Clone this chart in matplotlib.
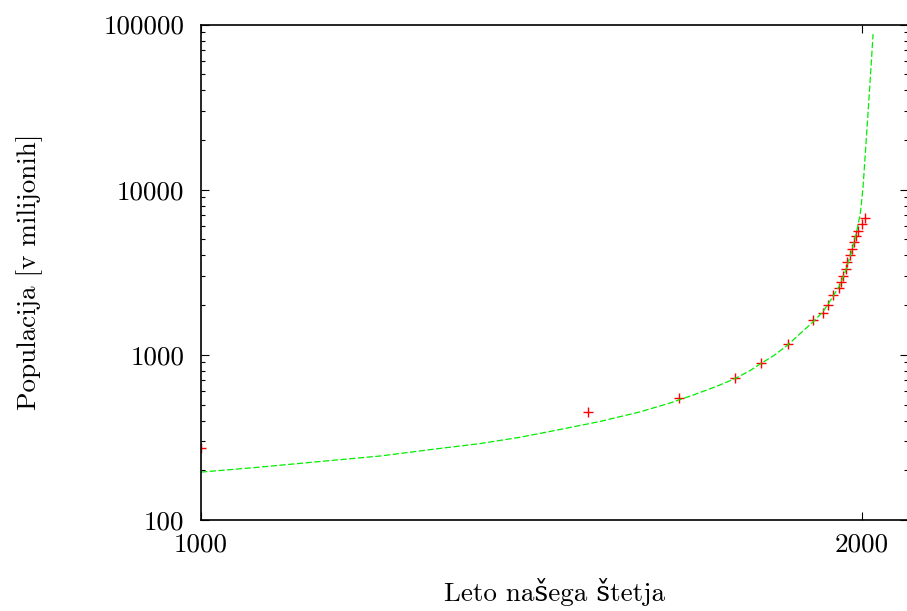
import matplotlib
matplotlib.use("Agg")
import matplotlib.pyplot as plt
from matplotlib.ticker import LogLocator, FixedLocator, NullFormatter, FixedFormatter

# measured world population (red crosses)
years = [1000, 1585, 1723, 1808, 1848, 1888, 1926, 1941, 1949, 1956, 1965,
         1968, 1971, 1976, 1978, 1982, 1985, 1988, 1991, 1994, 2000, 2005]
population = [274, 449, 545, 724, 896, 1161, 1625, 1799, 2011, 2292, 2527,
              2748, 2987, 3293, 3631, 4020, 4388, 4798, 5216, 5640, 6219, 6761]

# fitted model curve (green dashed)
fit_years = [1000, 1089, 1180, 1271, 1351, 1422, 1483, 1543, 1604, 1664,
             1710, 1745, 1778, 1808, 1831, 1848, 1868, 1888, 1906, 1926,
             1941, 1956, 1967, 1976, 1983, 1989.4, 1994, 1997.7, 2000,
             2002, 2004.5, 2007.1, 2009.8, 2012.1, 2014.7, 2017.1]
fit_population = [195, 209, 226, 244, 268, 290, 317, 353, 395, 451,
                  511, 571, 639, 717, 803, 888, 997, 1147, 1336, 1579,
                  1816, 2239, 2646, 3262, 4019, 4954, 6022, 7118, 8650,
                  10414, 14693, 20904, 30325, 41975, 60870, 87470]

yticks = [100, 1000, 10000, 100000]
xticks = [1000, 2000]

plt.rcParams['font.family'] = ['cmr10', 'DejaVu Serif']
plt.rcParams['axes.formatter.use_mathtext'] = True
plt.rcParams['font.size'] = 19.5

fig = plt.figure(figsize=(9.07, 6.11), dpi=100)
ax = fig.add_axes([201 / 907, 1 - 520 / 611, 707 / 907, (520 - 24.5) / 611])

ax.plot(years, population, linestyle='none', marker='+', color='#ff0000',
        markersize=7, markeredgewidth=1.0)
ax.plot(fit_years, fit_population, color='#00ee00', linewidth=0.9,
        dashes=(5, 2))

ax.set_yscale('log')
ax.set_xlim(1000, 2070)
ax.set_ylim(100, 100000)

ax.xaxis.set_major_locator(FixedLocator(xticks))
ax.xaxis.set_major_formatter(FixedFormatter([str(t) for t in xticks]))
ax.yaxis.set_major_locator(FixedLocator(yticks))
ax.yaxis.set_major_formatter(FixedFormatter([str(t) for t in yticks]))
ax.yaxis.set_minor_locator(LogLocator(base=10, subs=range(2, 10)))
ax.yaxis.set_minor_formatter(NullFormatter())

ax.tick_params(which='both', direction='in', top=True, right=True, width=0.8)
ax.tick_params(which='major', length=6)
ax.tick_params(which='minor', length=3)
ax.tick_params(axis='x', pad=9)
ax.tick_params(axis='y', pad=12)
for s in ax.spines.values():
    s.set_linewidth(1.2)

ax.set_xlabel("Leto našega štetja")
ax.set_ylabel("Populacija [v milijonih]")
ax.xaxis.set_label_coords((554 - 201) / 707, (520 - 592) / 495.5)
ax.yaxis.set_label_coords((30 - 201) / 707, 0.5)
ax.xaxis.label.set_va('center')
ax.yaxis.label.set_va('center')

fig.savefig("out.png", dpi=100)
